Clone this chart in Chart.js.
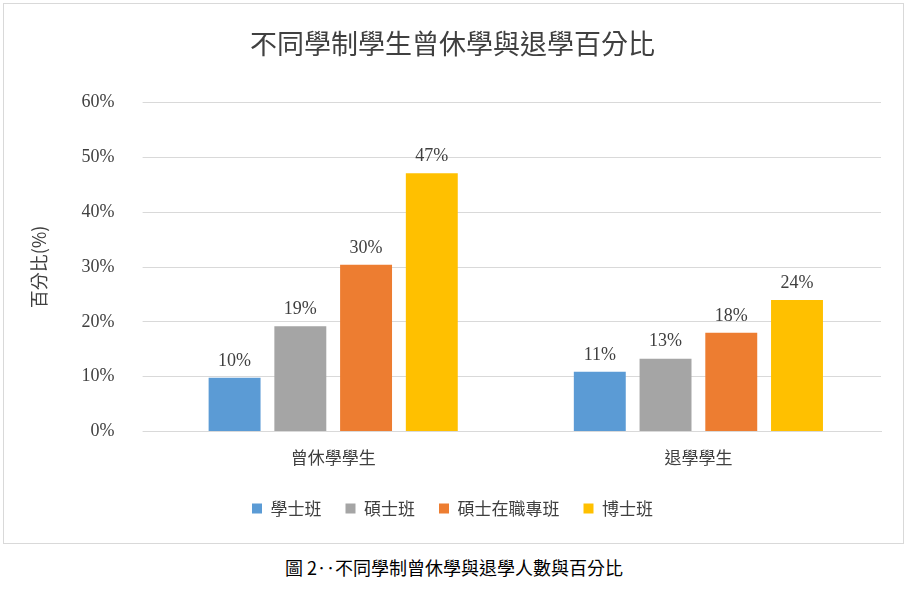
<!DOCTYPE html>
<html>
<head>
<meta charset="utf-8">
<script src="https://cdn.jsdelivr.net/npm/chart.js@4"></script>
<style>
  body { margin: 0; background: #fff; }
  .frame { position: absolute; left: 3px; top: 3px; width: 901px; height: 541px; border: 1px solid #d9d9d9; box-sizing: border-box; }
  .caption { position: absolute; left: 0; top: 554px; width: 908px; text-align: center; font: 18px "Noto Sans CJK TC", "Liberation Serif", serif; color: #000; }
</style>
</head>
<body>
<div class="frame"><canvas id="chart"></canvas></div>
<div class="caption">圖 2‥不同學制曾休學與退學人數與百分比</div>
<script>
const categories = ["曾休學學生", "退學學生"];
const seriesNames = ["學士班", "碩士班", "碩士在職專班", "博士班"];
const bachelor = [9.8, 10.9];
const master = [19.2, 13.3];
const masterInService = [30.4, 18.0];
const doctoral = [47.1, 24.0];
const colors = ["#5B9BD5", "#A5A5A5", "#ED7D31", "#FFC000"];

const fontCJK = '"Noto Sans CJK TC", sans-serif';
const fontNum = '"Liberation Serif", "Noto Sans CJK TC", serif';

const valueLabels = {
  id: "valueLabels",
  afterDatasetsDraw(chart) {
    const ctx = chart.ctx;
    ctx.save();
    ctx.font = "18px " + fontNum;
    ctx.fillStyle = "#404040";
    ctx.textAlign = "center";
    ctx.textBaseline = "bottom";
    chart.data.datasets.forEach((ds, i) => {
      chart.getDatasetMeta(i).data.forEach((bar, j) => {
        ctx.fillText(Math.round(ds.data[j]) + "%", bar.x, bar.y - 8);
      });
    });
    ctx.restore();
  }
};

new Chart(document.getElementById("chart"), {
  type: "bar",
  data: {
    labels: categories,
    datasets: [bachelor, master, masterInService, doctoral].map((d, i) => ({
      label: seriesNames[i], data: d, backgroundColor: colors[i],
      categoryPercentage: 0.72, barPercentage: 0.79
    }))
  },
  options: {
    responsive: true, maintainAspectRatio: false, animation: false,
    layout: { padding: { left: 20, right: 22, top: 10, bottom: 16 } },
    plugins: {
      title: { display: true, text: "不同學制學生曾休學與退學百分比", color: "#404040",
        font: { family: fontCJK, size: 27, weight: "normal" }, padding: { top: 14, bottom: 42 } },
      legend: { position: "bottom",
        labels: { boxWidth: 10, boxHeight: 10, color: "#404040", padding: 24,
          font: { family: fontCJK, size: 17 } } },
      tooltip: { enabled: false }
    },
    scales: {
      x: { grid: { display: false }, border: { color: "#d9d9d9" },
        ticks: { color: "#404040", font: { family: fontCJK, size: 17 }, padding: 8 } },
      y: { min: 0, max: 60, ticks: { stepSize: 10, color: "#404040", padding: 28,
          font: { family: fontNum, size: 18 }, callback: v => v + "%" },
        grid: { color: "#d9d9d9" }, border: { display: false },
        title: { display: true, text: "百分比(%)", color: "#404040",
          font: { family: fontCJK, size: 18 } } }
    }
  },
  plugins: [valueLabels]
});
</script>
</body>
</html>
